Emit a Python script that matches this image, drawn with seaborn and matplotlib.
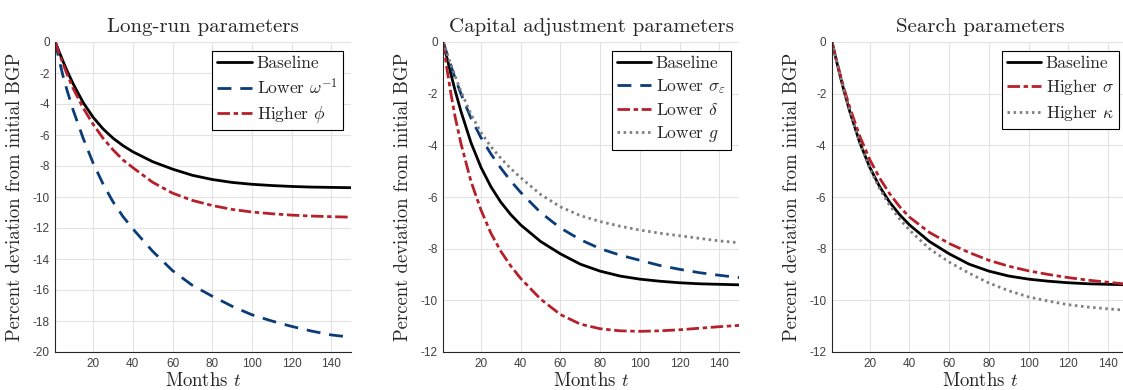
import numpy as np
import matplotlib
matplotlib.use("Agg")
import matplotlib.pyplot as plt
import seaborn as sns

#******************
#   Data
#******************
months = [1, 3, 5, 7, 10, 15, 20, 25, 30, 35, 40, 50, 60, 70, 80, 90, 100, 110, 120, 130, 140, 150]

baseline = [0, -0.65, -1.28, -1.88, -2.7, -3.9, -4.85, -5.6, -6.2, -6.68, -7.08, -7.72, -8.2,
            -8.6, -8.87, -9.06, -9.18, -9.26, -9.32, -9.36, -9.38, -9.4]

# Long-run parameters
lower_omega = [0, -1.2, -2.25, -3.15, -4.4, -6.2, -7.8, -9.15, -10.3, -11.25, -12.05, -13.5, -14.75,
               -15.7, -16.4, -17.05, -17.6, -18.0, -18.35, -18.65, -18.9, -19.05]
higher_phi = [0, -0.75, -1.45, -2.1, -3.0, -4.25, -5.3, -6.2, -6.95, -7.6, -8.1, -9.05, -9.75,
              -10.22, -10.55, -10.8, -10.97, -11.08, -11.17, -11.23, -11.27, -11.3]

# Capital adjustment parameters
lower_sigma_eps = [0, -0.48, -0.95, -1.4, -2.02, -2.95, -3.7, -4.33, -4.88, -5.38, -5.82, -6.6, -7.2,
                   -7.65, -8.0, -8.25, -8.45, -8.65, -8.8, -8.93, -9.03, -9.12]
lower_delta = [0, -1.1, -2.05, -2.9, -3.95, -5.4, -6.5, -7.4, -8.1, -8.67, -9.15, -9.95, -10.55,
               -10.92, -11.1, -11.18, -11.2, -11.18, -11.14, -11.08, -11.02, -10.97]
lower_g = [0, -0.46, -0.9, -1.32, -1.92, -2.8, -3.5, -4.05, -4.5, -4.9, -5.25, -5.9, -6.38,
           -6.72, -6.95, -7.13, -7.28, -7.4, -7.5, -7.6, -7.7, -7.77]

# Search parameters
higher_sigma = [0, -0.62, -1.22, -1.78, -2.55, -3.65, -4.55, -5.27, -5.87, -6.37, -6.78, -7.37, -7.8,
                -8.15, -8.45, -8.68, -8.86, -9.0, -9.12, -9.22, -9.3, -9.38]
higher_kappa = [0, -0.65, -1.28, -1.88, -2.7, -3.92, -4.9, -5.68, -6.32, -6.85, -7.28, -8.0, -8.52,
                -8.95, -9.33, -9.63, -9.87, -10.03, -10.17, -10.26, -10.33, -10.39]

titles = ["Long-run parameters", "Capital adjustment parameters", "Search parameters"]

#*******************
#   Set aesthetics
#*******************
sns.set_style("whitegrid")
plt.rcParams["font.family"] = ["Liberation Sans", "DejaVu Sans"]
plt.rcParams["mathtext.fontset"] = "cm"
plt.rcParams["axes.unicode_minus"] = False

BLACK = "#000000"
BLUE = "#0b3c78"
RED = "#b5202a"
GRAY = "#7f7f7f"
LW = 2.0
dashed = (0, (5, 3.2))
dashdot = (0, (4.5, 1.3, 1.6, 1.3))
dotted = (0, (0.9, 1.3))

serif = "cmr10"

fig = plt.figure(figsize=(11.23, 3.9), dpi=100)
W, H = 1123.0, 390.0
lefts = [55.3, 443.2, 832.0]
width = 296.0
top_px, bot_px = 42.0, 352.0

panels = [
    [("Baseline", baseline, BLACK, "-"),
     (r"Lower $\omega^{-1}$", lower_omega, BLUE, dashed),
     (r"Higher $\phi$", higher_phi, RED, dashdot)],
    [("Baseline", baseline, BLACK, "-"),
     (r"Lower $\sigma_\varepsilon$", lower_sigma_eps, BLUE, dashed),
     (r"Lower $\delta$", lower_delta, RED, dashdot),
     (r"Lower $g$", lower_g, GRAY, dotted)],
    [("Baseline", baseline, BLACK, "-"),
     (r"Higher $\sigma$", higher_sigma, RED, dashdot),
     (r"Higher $\kappa$", higher_kappa, GRAY, dotted)],
]
ylims = [(-20, 0), (-12, 0), (-12, 0)]

for i in range(3):
    ax = fig.add_axes([lefts[i] / W, (H - bot_px) / H, width / W, (bot_px - top_px) / H])
    for label, vals, col, ls in panels[i]:
        sns.lineplot(x=months, y=vals, ax=ax, color=col, linestyle=ls,
                     linewidth=LW, label=label)

    ax.set_xlim(1, 150)
    ax.set_ylim(*ylims[i])
    ax.set_xticks(np.arange(20, 141, 20))
    ax.set_yticks(np.arange(ylims[i][0], 0.1, 2))
    ax.grid(True, color="#e3e3e3", linewidth=0.8)
    for s in ["top", "right"]:
        ax.spines[s].set_visible(False)
    for s in ["left", "bottom"]:
        ax.spines[s].set_color("#262626")
        ax.spines[s].set_linewidth(0.8)
    ax.tick_params(axis="both", labelsize=8.5, colors="#404040", direction="in",
                   length=2.5, width=0.6, pad=4)

    ax.set_title(titles[i], fontfamily=serif, fontsize=15, pad=7)
    ax.set_xlabel(r"Months $t$", fontfamily=serif, fontsize=13.5, labelpad=2)
    ax.set_ylabel("Percent deviation from initial BGP", fontfamily=serif,
                  fontsize=13.5, labelpad=6)

    leg = ax.legend(loc="upper right", prop={"family": serif, "size": 12.5},
                    fancybox=False, framealpha=1, edgecolor="#000000",
                    handlelength=2.0, handletextpad=0.25, labelspacing=0.35,
                    borderpad=0.3, borderaxespad=0.5)
    leg.get_frame().set_linewidth(0.8)

plt.savefig("out.png", dpi=100)
